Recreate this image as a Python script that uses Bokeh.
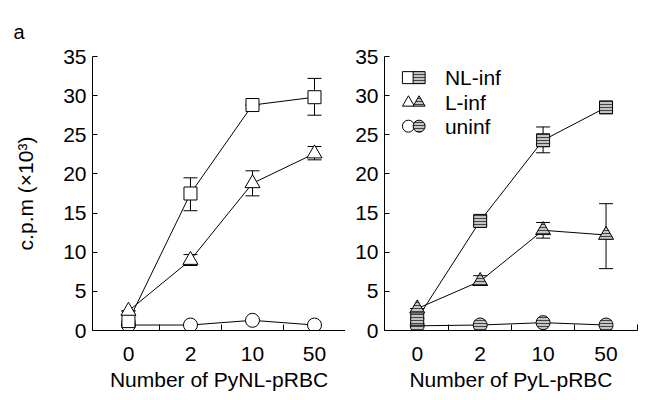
from bokeh.plotting import figure
from bokeh.layouts import row
from bokeh.models import ColumnDataSource, Whisker, TeeHead, FixedTicker
from bokeh.core.properties import value
from bokeh.embed import file_html
from bokeh.resources import INLINE

doses = ["0", "2", "10", "50"]

# Left panel: PyNL-pRBC
left_nl = [1.2, 17.5, 28.8, 29.8]
left_nl_lo = [1.2, 15.3, 28.8, 27.5]
left_nl_hi = [1.2, 19.5, 28.8, 32.2]
left_l = [2.5, 9.0, 18.8, 22.6]
left_l_lo = [2.5, 8.3, 17.2, 21.8]
left_l_hi = [2.5, 9.7, 20.4, 23.5]
left_un = [0.7, 0.7, 1.3, 0.7]

# Right panel: PyL-pRBC
right_nl = [1.5, 14.0, 24.3, 28.5]
right_nl_lo = [1.5, 13.5, 22.7, 28.0]
right_nl_hi = [1.5, 14.5, 26.0, 29.0]
right_l = [2.8, 6.3, 12.8, 12.2]
right_l_lo = [2.8, 5.8, 11.8, 7.9]
right_l_hi = [2.8, 7.0, 13.8, 16.2]
right_un = [0.6, 0.7, 1.0, 0.7]

legend_labels = ["NL-inf", "L-inf", "uninf"]
legend_markers = ["square", "triangle", "circle"]
panel_letter = "a"

FONT = "Liberation Sans"
FS = "21px"
xs = list(range(len(doses)))


def style_axes(p, ylabel):
    p.grid.visible = False
    p.outline_line_color = None
    p.background_fill_color = "white"
    p.border_fill_color = "white"
    xa = p.xaxis[0]
    xa.ticker = FixedTicker(ticks=xs, minor_ticks=[0.5, 1.5, 2.5, 3.5])
    xa.major_label_overrides = {i: d for i, d in enumerate(doses)}
    xa.major_tick_in = 0
    xa.major_tick_out = 0
    xa.minor_tick_in = 6
    xa.minor_tick_out = 0
    xa.major_label_standoff = 16
    xa.axis_label_standoff = 4
    ya = p.yaxis[0]
    ya.ticker = FixedTicker(ticks=[0, 5, 10, 15, 20, 25, 30, 35])
    ya.major_tick_in = 5
    ya.major_tick_out = 0
    ya.minor_tick_in = 0
    ya.minor_tick_out = 0
    ya.major_label_standoff = 6
    ya.axis_label_standoff = 23
    if ylabel:
        ya.axis_label = ylabel
    for ax in (xa, ya):
        ax.axis_line_color = "black"
        ax.major_tick_line_color = "black"
        ax.minor_tick_line_color = "black"
        ax.major_label_text_font = FONT
        ax.major_label_text_font_size = FS
        ax.major_label_text_color = "black"
        ax.axis_label_text_font = FONT
        ax.axis_label_text_font_size = FS
        ax.axis_label_text_font_style = "normal"
        ax.axis_label_text_color = "black"


def draw_panel(p, nl, nl_lo, nl_hi, l, l_lo, l_hi, un, filled):
    for ys, lo, hi in ((nl, nl_lo, nl_hi), (l, l_lo, l_hi)):
        src = ColumnDataSource(dict(x=xs, lo=lo, hi=hi))
        w = Whisker(source=src, base="x", lower="lo", upper="hi",
                    line_color="black", line_width=1,
                    upper_head=TeeHead(size=14, line_color="black"),
                    lower_head=TeeHead(size=14, line_color="black"))
        p.add_layout(w)
    for ys in (un, l, nl):
        p.line(xs, ys, line_color="black", line_width=1)
    if filled:
        kw = dict(fill_color="#c4c4c4", hatch_pattern="horizontal_line",
                  hatch_color="#444444", hatch_scale=3, hatch_weight=1)
    else:
        kw = dict(fill_color="white")
    p.scatter(xs, un, marker="circle", size=14, line_color="black", **kw)
    p.scatter(xs, nl, marker="square", size=13, line_color="black", **kw)
    p.scatter(xs, l, marker="triangle", size=15, line_color="black", **kw)


left = figure(width=345, height=396, x_range=(-0.58, 3.5), y_range=(0, 35),
              output_backend="svg", toolbar_location=None,
              min_border_left=92, min_border_right=0, min_border_top=56,
              min_border_bottom=66, x_axis_label="Number of PyNL-pRBC",
              title=panel_letter)
left.title.align = "left"
left.title.vertical_align = "top"
left.title.offset = -79
left.title.standoff = 24
left.title.text_font = FONT
left.title.text_font_size = "20px"
left.title.text_font_style = "normal"
left.title.text_color = "black"
style_axes(left, "c.p.m (×10³)")
draw_panel(left, left_nl, left_nl_lo, left_nl_hi, left_l, left_l_lo, left_l_hi,
           left_un, False)

right = figure(width=295, height=396, x_range=(-0.52, 3.5), y_range=(0, 35),
               output_backend="svg", toolbar_location=None,
               min_border_left=39, min_border_right=3, min_border_top=56,
               min_border_bottom=66, x_axis_label="Number of PyL-pRBC")
style_axes(right, None)
draw_panel(right, right_nl, right_nl_lo, right_nl_hi, right_l, right_l_lo,
           right_l_hi, right_un, True)

# legend (open + filled symbol, then label)
leg_y = [32.3, 29.1, 26.1]
for i, (lab, mk) in enumerate(zip(legend_labels, legend_markers)):
    right.scatter([-0.14], [leg_y[i]], marker=mk, size=12, fill_color="white",
                  line_color="black")
    right.scatter([0.03], [leg_y[i]], marker=mk, size=12, fill_color="#c4c4c4",
                  hatch_pattern="horizontal_line", hatch_color="#444444",
                  hatch_scale=3, line_color="black")
right.text(x=[0.44] * 3, y=leg_y, text=legend_labels, text_font=value(FONT),
           text_font_size="21px", text_baseline="middle", text_align="left",
           text_color="black")

layout = row(left, right)
open("out.html", "w").write(file_html(layout, INLINE))
